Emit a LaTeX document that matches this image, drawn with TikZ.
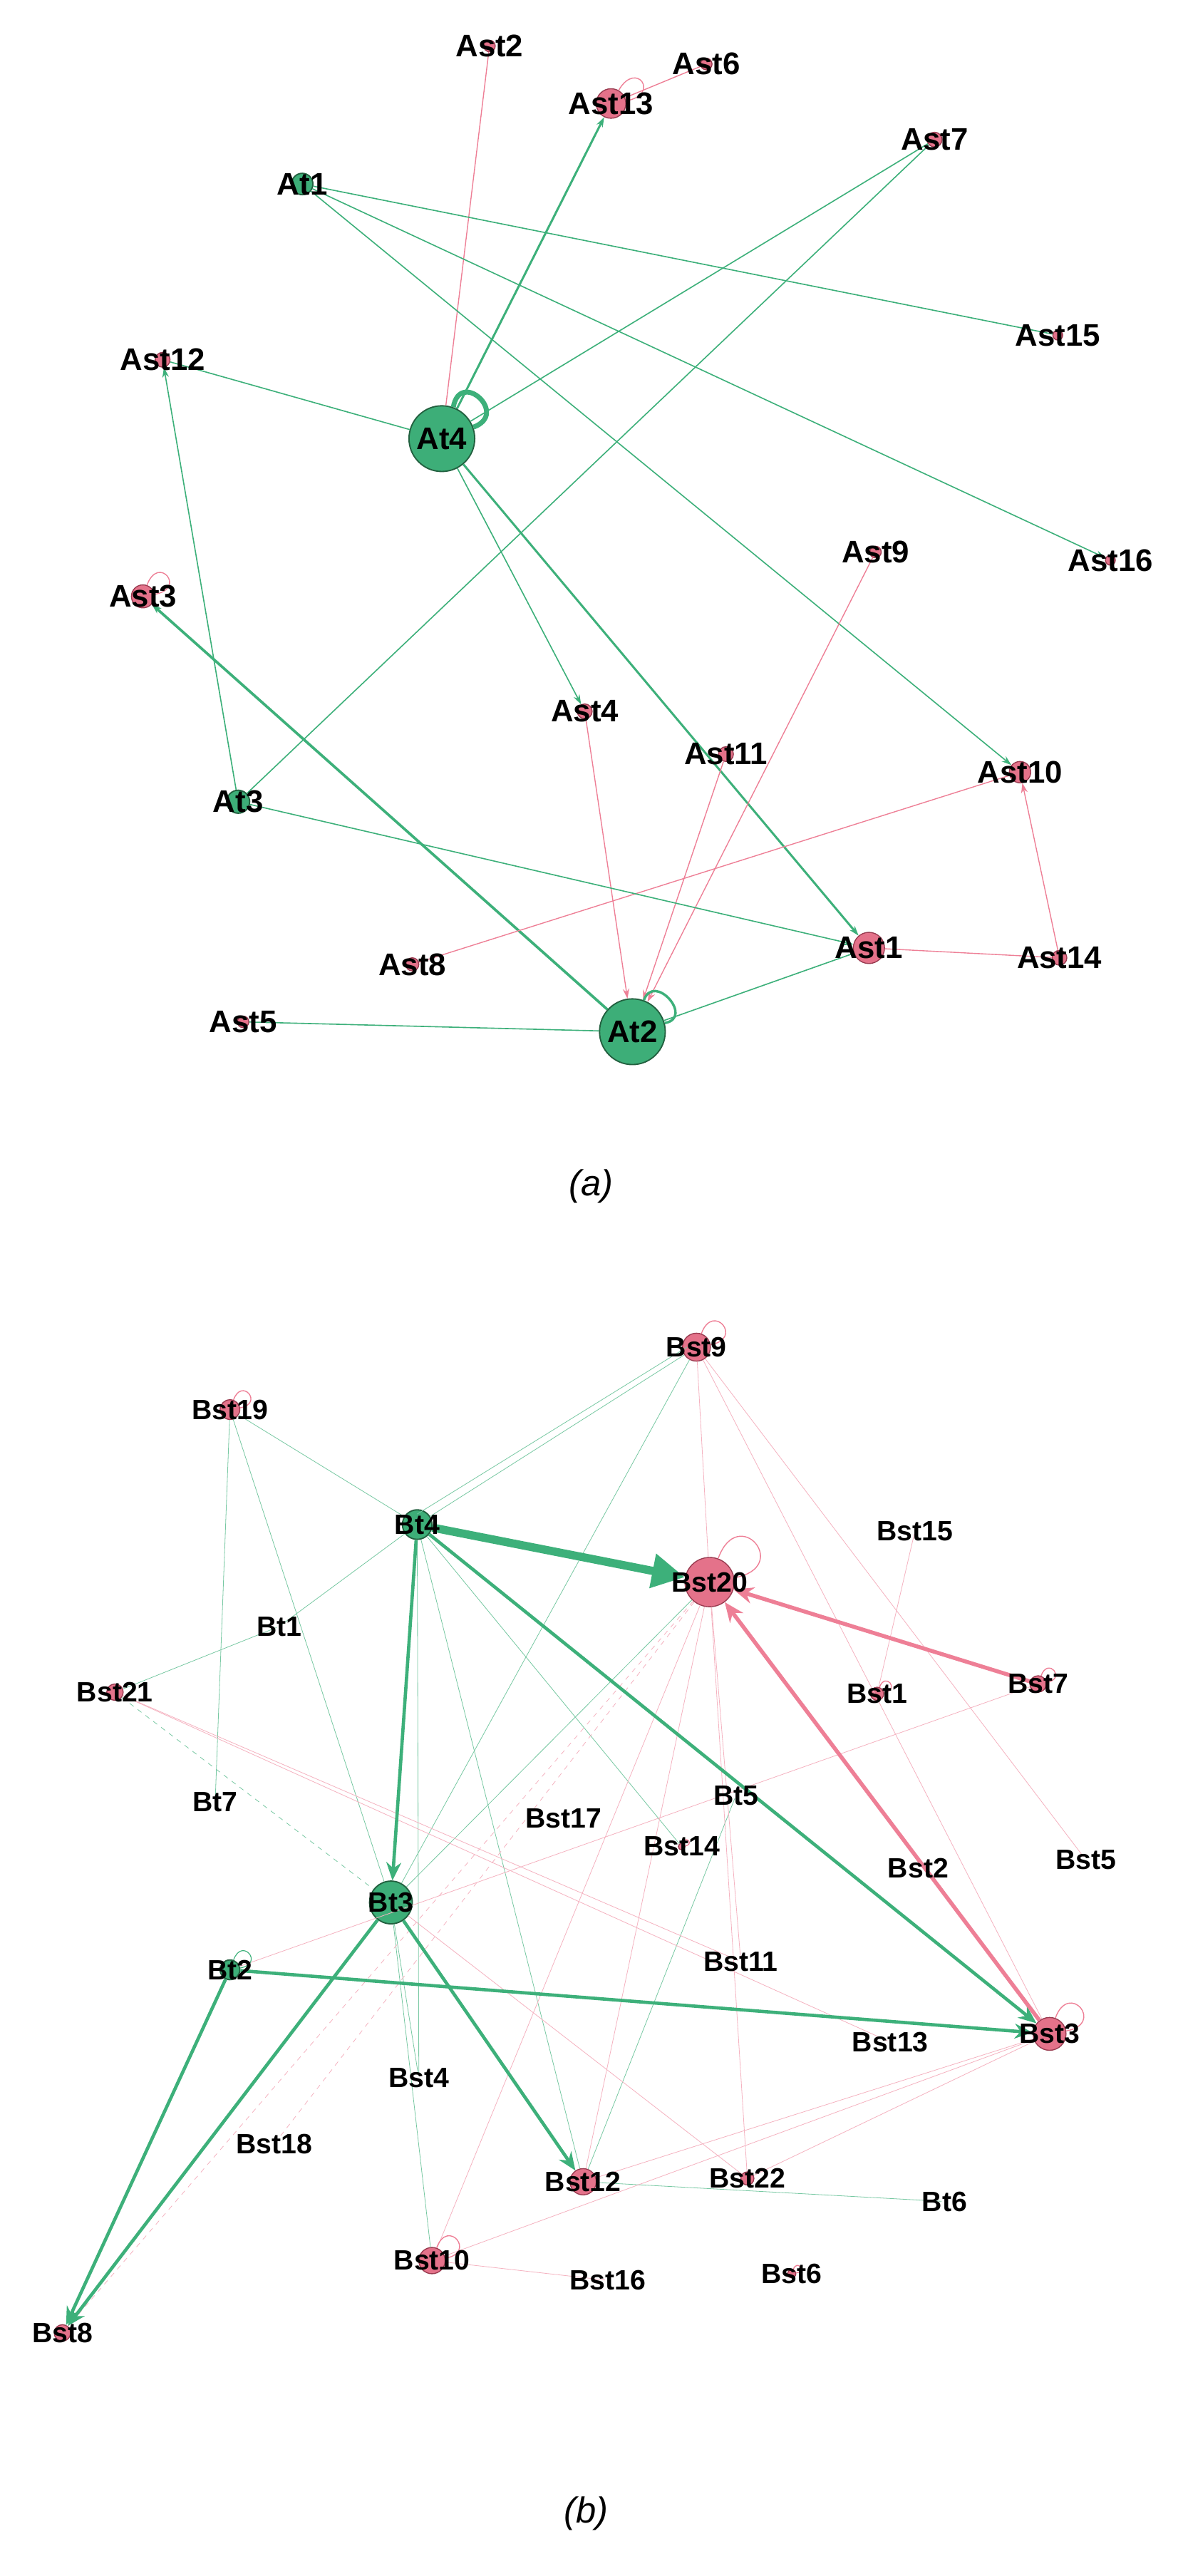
\documentclass[tikz,border=0pt]{standalone}
\usepackage{fontspec}
\setmainfont{Liberation Sans}
\usetikzlibrary{arrows.meta}
\definecolor{gfill}{HTML}{3DAE78}
\definecolor{gdraw}{HTML}{22603F}
\definecolor{pfill}{HTML}{E4728A}
\definecolor{pdraw}{HTML}{9A3B50}
\definecolor{gedge}{HTML}{3DB07A}
\definecolor{pedge}{HTML}{EE7F96}
\tikzset{
 gn/.style={circle,fill=gfill,draw=gdraw,line width=0.8pt,inner sep=0pt},
 pn/.style={circle,fill=pfill,draw=pdraw,line width=0.6pt,inner sep=0pt},
 lab/.style={font=\bfseries\fontsize{19}{19}\selectfont,inner sep=0pt},
 labb/.style={font=\bfseries\fontsize{17}{17}\selectfont,inner sep=0pt},
 ge/.style={draw=gedge,line width=0.7pt},
 pe/.style={draw=pedge,line width=0.6pt},
 gthin/.style={draw=gedge!70,line width=0.35pt},
 pthin/.style={draw=pedge!60,line width=0.35pt},
 arr/.style={-{Stealth[length=6pt,width=4pt]}},
 captext/.style={font=\itshape\fontsize{22}{22}\selectfont}
}
\begin{document}
\begin{tikzpicture}[x=1pt,y=-1pt]
\useasboundingbox[fill=white] (0,0) rectangle (720,1568);
% ---------- (a) nodes
\node[pn,minimum size=7pt] (Ast2) at (298,28) {};
\node[pn,minimum size=7pt] (Ast6) at (430,39) {};
\node[pn,minimum size=18pt] (Ast13) at (372,63) {};
\node[pn,minimum size=9pt] (Ast7) at (569,85) {};
\node[gn,minimum size=13pt] (At1) at (184,112) {};
\node[pn,minimum size=6pt] (Ast15) at (644,204) {};
\node[pn,minimum size=9pt] (Ast12) at (99,219) {};
\node[gn,minimum size=40pt] (At4) at (269,267) {};
\node[pn,minimum size=6pt] (Ast16) at (676,341) {};
\node[pn,minimum size=7pt] (Ast9) at (533,336) {};
\node[pn,minimum size=14pt] (Ast3) at (87,363) {};
\node[pn,minimum size=9pt] (Ast4) at (356,433) {};
\node[pn,minimum size=9pt] (Ast11) at (442,459) {};
\node[pn,minimum size=13pt] (Ast10) at (621,470) {};
\node[gn,minimum size=14pt] (At3) at (145,488) {};
\node[pn,minimum size=19pt] (Ast1) at (529,577) {};
\node[pn,minimum size=9pt] (Ast14) at (645,583) {};
\node[pn,minimum size=8pt] (Ast8) at (251,587) {};
\node[gn,minimum size=40pt] (At2) at (385,628) {};
\node[pn,minimum size=7pt] (Ast5) at (148,622) {};
% ---------- (a) edges
\draw[pe] (Ast2) -- (At4);
\draw[ge,arr,line width=1.3pt] (At4) -- (Ast13);
\draw[pe] (Ast6) -- (Ast13);
\draw[pe] (Ast13) to[out=60,in=10,looseness=7] (Ast13);
\draw[ge] (At1) -- (Ast15);
\draw[ge,arr] (At1) -- (Ast16);
\draw[ge,arr] (At1) -- (Ast10);
\draw[ge] (At4) -- (Ast7);
\draw[ge] (At3) -- (Ast7);
\draw[ge] (At4) -- (Ast12);
\draw[ge,arr] (At3) -- (Ast12);
\draw[draw=gedge,line width=3pt] (At4.70) to[out=80,in=20,looseness=3.5] (At4.20);
\draw[ge,arr] (At4) -- (Ast4);
\draw[ge,arr,line width=1.3pt] (At4) -- (Ast1);
\draw[ge,arr,line width=1.6pt] (At2) -- (Ast3);
\draw[pe,arr] (Ast4) -- (At2);
\draw[pe,arr] (Ast11) -- (At2);
\draw[pe,arr] (Ast9) -- (At2);
\draw[pe] (Ast8) -- (Ast10);
\draw[pe,arr] (Ast14) -- (Ast10);
\draw[pe] (Ast1) -- (Ast14);
\draw[ge,arr] (At3) -- (Ast1);
\draw[ge] (At2) -- (Ast1);
\draw[ge] (Ast5) -- (At2);
\draw[draw=gedge,line width=1.5pt] (At2.70) to[out=70,in=10,looseness=2.5] (At2.15);
\draw[pe] (Ast3) to[out=70,in=10,looseness=7] (Ast3);
% ---------- (a) labels
\foreach \n in {Ast2,Ast6,Ast13,Ast7,At1,Ast15,Ast12,At4,Ast16,Ast9,Ast3,Ast4,Ast11,Ast10,At3,Ast1,Ast14,Ast8,At2,Ast5}
  \node[lab] at (\n) {\n};
\node[captext] (capa) at (360,722) {(a)};
% ---------- (b) nodes
\node[pn,minimum size=17pt] (Bst9) at (424,820) {};
\node[pn,minimum size=12pt] (Bst19) at (140,858) {};
\node[gn,minimum size=18pt] (Bt4) at (254,928) {};
\node[inner sep=0pt,minimum size=3pt] (Bst15) at (557,932) {};
\node[pn,minimum size=30pt] (Bst20) at (432,963) {};
\node[inner sep=0pt,minimum size=3pt] (Bt1) at (170,990) {};
\node[pn,minimum size=10pt] (Bst21) at (70,1030) {};
\node[pn,minimum size=8pt] (Bst1) at (534,1031) {};
\node[pn,minimum size=10pt] (Bst7) at (632,1025) {};
\node[inner sep=0pt,minimum size=3pt] (Bt7) at (131,1097) {};
\node[inner sep=0pt,minimum size=3pt] (Bt5) at (448,1093) {};
\node[inner sep=0pt,minimum size=3pt] (Bst17) at (343,1107) {};
\node[pn,minimum size=4pt] (Bst14) at (415,1124) {};
\node[inner sep=0pt,minimum size=3pt] (Bst2) at (559,1137) {};
\node[inner sep=0pt,minimum size=3pt] (Bst5) at (661,1132) {};
\node[gn,minimum size=26pt] (Bt3) at (238,1158) {};
\node[gn,minimum size=12pt] (Bt2) at (140,1199) {};
\node[inner sep=0pt,minimum size=3pt] (Bst11) at (451,1194) {};
\node[pn,minimum size=20pt] (Bst3) at (639,1238) {};
\node[inner sep=0pt,minimum size=3pt] (Bst13) at (542,1243) {};
\node[inner sep=0pt,minimum size=3pt] (Bst4) at (255,1265) {};
\node[inner sep=0pt,minimum size=3pt] (Bst18) at (167,1305) {};
\node[pn,minimum size=16pt] (Bst12) at (355,1328) {};
\node[pn,minimum size=8pt] (Bst22) at (455,1326) {};
\node[inner sep=0pt,minimum size=3pt] (Bt6) at (575,1340) {};
\node[pn,minimum size=16pt] (Bst10) at (263,1376) {};
\node[inner sep=0pt,minimum size=3pt] (Bst16) at (370,1388) {};
\node[pn,minimum size=5pt] (Bst6) at (482,1384) {};
\node[pn,minimum size=10pt] (Bst8) at (38,1420) {};
% ---------- (b) thin edges
\draw[gthin] (Bst9) -- (Bt4);
\draw[gthin] ([xshift=3pt]Bst9.west) -- ([yshift=-3pt]Bt4.north);
\draw[gthin] (Bst9) -- (Bt3);
\draw[gthin] (Bst19) -- (Bt4);
\draw[gthin] (Bst19) -- (Bt7);
\draw[gthin] (Bst19) -- (Bt3);
\draw[gthin] (Bt4) -- (Bt1);
\draw[gthin] (Bt1) -- (Bst21);
\draw[gthin,dashed] (Bst21) -- (Bt3);
\draw[gthin] (Bt4) -- (Bst14);
\draw[gthin] (Bt4) -- (Bst12);
\draw[gthin] (Bt4) -- (Bst4);
\draw[gthin] (Bt3) -- (Bst10);
\draw[gthin] (Bt5) -- (Bst12);
\draw[gthin] (Bst12) -- (Bt6);
\draw[gthin] (Bt3) -- (Bst4);
\draw[gthin] (Bst20) -- (Bt3);
\draw[pthin] (Bst9) -- (Bst20);
\draw[pthin] (Bst9) -- (Bst5);
\draw[pthin] (Bst9) -- (Bst3);
\draw[pthin] (Bst15) -- (Bst1);
\draw[pthin] (Bst20) -- (Bst22);
\draw[pthin] (Bst20) -- (Bst12);
\draw[pthin,dashed] (Bst20) -- (Bst8);
\draw[pthin,dashed] (Bst20) -- (Bst18);
\draw[pthin] (Bst20) -- (Bst10);
\draw[pthin] (Bst20) -- (Bst11);
\draw[pthin] (Bst21) -- (Bst11);
\draw[pthin] (Bst21) -- (Bst13);
\draw[pthin] (Bst7) -- (Bt2);
\draw[pthin] (Bst3) -- (Bst12);
\draw[pthin] (Bst3) -- (Bst10);
\draw[pthin] (Bst3) -- (Bst22);
\draw[pthin] (Bst10) -- (Bst16);
\draw[pthin] (Bt3) -- (Bst22);
% ---------- (b) thick edges
\draw[draw=gedge,line width=5pt,-{Triangle[length=20pt,width=20pt]}] (Bt4) -- (Bst20);
\draw[ge,line width=2pt,-{Stealth[length=11pt,width=9pt]}] (Bt4) -- (Bt3);
\draw[ge,line width=2pt,-{Stealth[length=11pt,width=9pt]}] (Bt4) -- (Bst3);
\draw[ge,line width=2pt,-{Stealth[length=11pt,width=9pt]}] (Bt3) -- (Bst8);
\draw[ge,line width=2pt,-{Stealth[length=11pt,width=9pt]}] (Bt2) -- (Bst8);
\draw[ge,line width=2pt,-{Stealth[length=11pt,width=9pt]}] (Bt3) -- (Bst12);
\draw[ge,line width=2pt,-{Stealth[length=11pt,width=9pt]}] (Bt2) -- (Bst3);
\draw[draw=pedge,line width=2.4pt,-{Stealth[length=12pt,width=10pt]}] (Bst7) -- (Bst20);
\draw[draw=pedge,line width=2.4pt,-{Stealth[length=12pt,width=10pt]}] (Bst3) -- (Bst20);
% self loops
\foreach \n in {Bst9,Bst19,Bst20,Bst3,Bst10,Bst1,Bst7,Bst6,Bst14}
  \draw[pe] (\n) to[out=70,in=10,looseness=6] (\n);
\draw[ge,line width=0.5pt] (Bt2) to[out=70,in=10,looseness=6] (Bt2);
% ---------- (b) labels
\foreach \n in {Bst9,Bst19,Bt4,Bst15,Bst20,Bt1,Bst21,Bst1,Bst7,Bt7,Bt5,Bst17,Bst14,Bst2,Bst5,Bt3,Bt2,Bst11,Bst3,Bst13,Bst4,Bst18,Bst12,Bst22,Bt6,Bst10,Bst16,Bst6,Bst8}
  \node[labb] at (\n) {\n};
\node[captext] (capb) at (357,1530) {(b)};
\end{tikzpicture}
\end{document}
